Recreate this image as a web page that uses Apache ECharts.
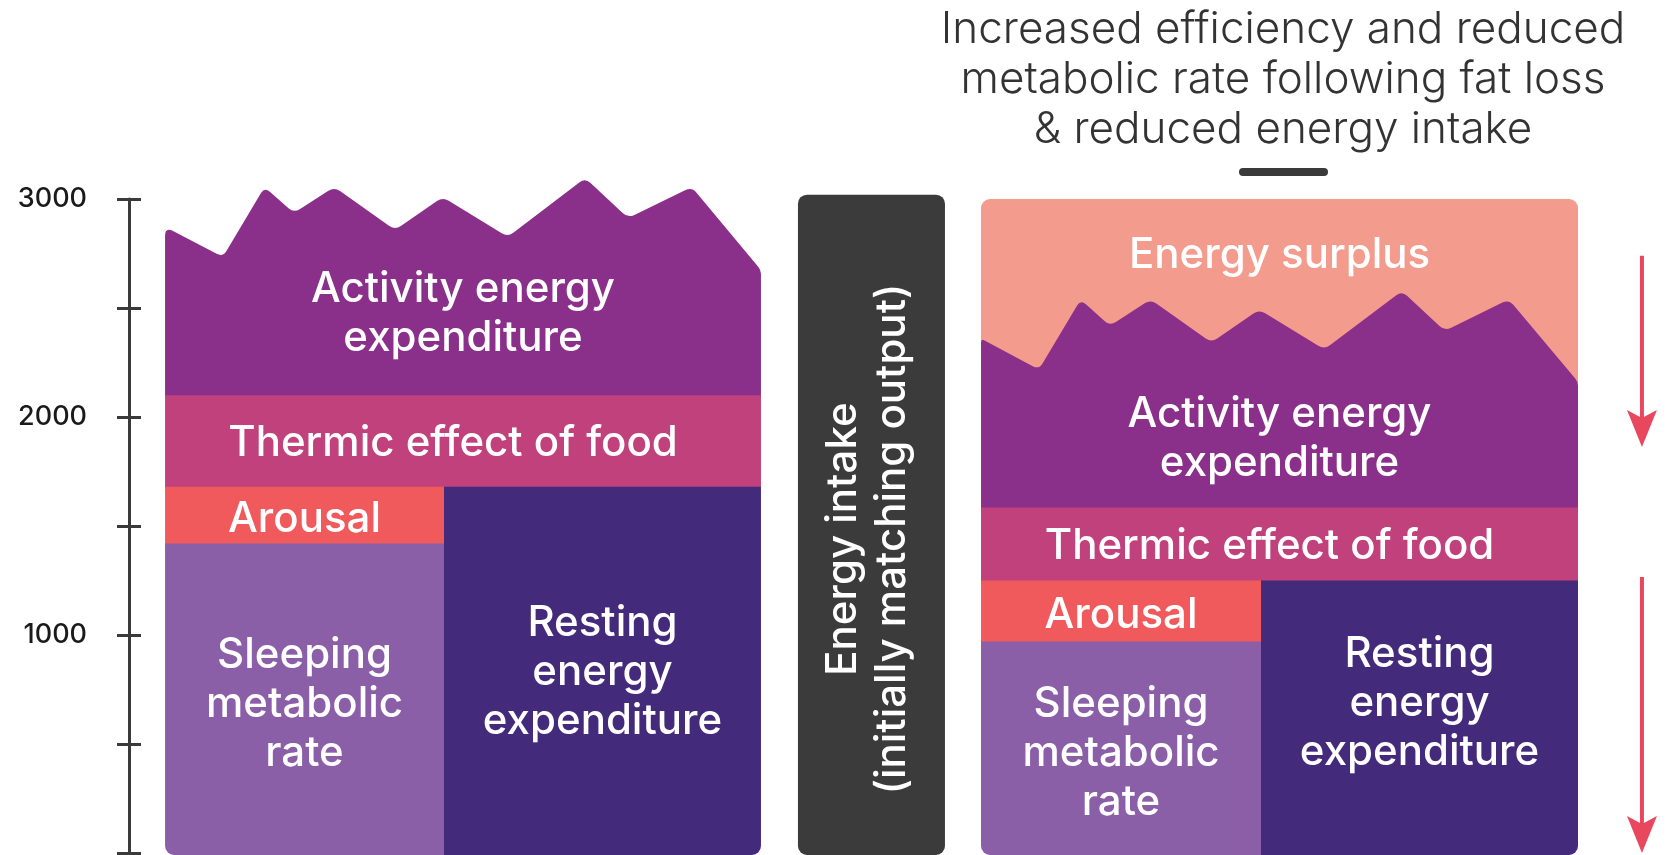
<!DOCTYPE html>
<html>
<head>
<meta charset="utf-8">
<script src="https://cdn.jsdelivr.net/npm/echarts@6/dist/echarts.min.js"></script>
<style>
  html, body { margin: 0; padding: 0; background: #ffffff; }
  #chart { width: 1670px; height: 855px; }
</style>
</head>
<body>
<div id="chart"></div>
<script>
// ---- Daily energy budget (kcal/day): before and after fat loss ----
const yTicks = [0, 500, 1000, 1500, 2000, 2500, 3000];
const yLabels = ['', '', '1000', '', '2000', '', '3000'];
const panels = ['Before fat loss', 'After fat loss'];
const sleepingTop = [1420, 970];      // sleeping metabolic rate
const arousalTop = [1680, 1250];      // sleeping + arousal (= resting energy expenditure)
const thermicTop = [2100, 1585];      // + thermic effect of food
const surplusTop = [null, 3000];      // energy intake level over the reduced output
const energyIntake = 3020;
// Ragged upper edge of activity energy expenditure
const activityEdgeBefore = [2872, 2734, 3055, 2936, 3055, 2858, 3009, 2826, 3096, 2913, 3055, 2674];
const activityEdgeAfter = [2360, 2218, 2539, 2418, 2539, 2342, 2493, 2310, 2578, 2395, 2539, 2161];
const arrowDrops = [[2740, 1862], [1266, 0]];

const titleText = 'Increased efficiency and reduced\nmetabolic rate following fat loss\n& reduced energy intake';
const bandNames = {
  activity: 'Activity energy\nexpenditure',
  thermic: 'Thermic effect of food',
  arousal: 'Arousal',
  sleeping: 'Sleeping\nmetabolic\nrate',
  resting: 'Resting\nenergy\nexpenditure',
  surplus: 'Energy surplus',
  intake: 'Energy intake\n(initially matching output)'
};

// ---- layout: horizontal positions in percent of plot width ----
const layout = {
  panels: [
    { x0: 2.34, split: 20.44, x1: 41.01 },
    { x0: 55.29, split: 73.46, x1: 94.03 }
  ],
  intakeBar: [43.41, 52.95],
  arrowX: 98.18,
  edgeX: [0, 0.097, 0.167, 0.216, 0.284, 0.386, 0.466, 0.575, 0.705, 0.777, 0.884, 1],
  labelValue: { activity: [2480, 1910], resting: [840, 695], surplus: 2752, intake: 1440 },
  sleepingShift: -20
};

const colors = {
  activity: '#8a308a',
  thermic: '#c1417c',
  arousal: '#f05a5d',
  sleeping: '#8a5fa8',
  resting: '#432a7b',
  surplus: '#f39b8c',
  intake: '#3b3b3b',
  axis: '#3a3a3a',
  arrow: '#e9475e'
};

const FONT = 'Inter, "Noto Sans", sans-serif';
const LABEL = { fill: '#ffffff', fontFamily: FONT, fontSize: 42, fontWeight: 500, lineHeight: 49, align: 'center', verticalAlign: 'middle' };
const TEXT_DY = 2;

// Closed polygon path with softly rounded vertices; each point may carry its own radius
function roundedPath(pts) {
  const n = pts.length;
  let d = '';
  for (let k = 0; k < n; k++) {
    const p = pts[k], a = pts[(k - 1 + n) % n], b = pts[(k + 1) % n];
    const r = p[2] || 0;
    const da = Math.hypot(a[0] - p[0], a[1] - p[1]) || 1;
    const db = Math.hypot(b[0] - p[0], b[1] - p[1]) || 1;
    const la = Math.min(r, da / 2), lb = Math.min(r, db / 2);
    const s = [p[0] + (a[0] - p[0]) / da * la, p[1] + (a[1] - p[1]) / da * la];
    const e = [p[0] + (b[0] - p[0]) / db * lb, p[1] + (b[1] - p[1]) / db * lb];
    d += (k === 0 ? 'M' : 'L') + s[0].toFixed(2) + ' ' + s[1].toFixed(2) +
      ' Q' + p[0].toFixed(2) + ' ' + p[1].toFixed(2) + ' ' + e[0].toFixed(2) + ' ' + e[1].toFixed(2) + ' ';
  }
  return d + 'Z';
}

function rectBetween(api, xa, xb, vTop, vBottom, r, color, extra) {
  const p1 = api.coord([xa, vTop]);
  const p2 = api.coord([xb, vBottom]);
  return {
    type: 'rect',
    shape: { x: p1[0], y: p1[1], width: p2[0] - p1[0], height: p2[1] - p1[1] + (extra || 0), r: r },
    style: { fill: color }
  };
}

function textAt(api, x, v, text, dx) {
  const p = api.coord([x, v]);
  return { type: 'text', x: p[0] + (dx || 0), y: p[1] + TEXT_DY, style: Object.assign({ text: text }, LABEL) };
}

function renderPanel(params, api) {
  const i = params.dataIndex;
  const P = layout.panels[i];
  const edge = i === 0 ? activityEdgeBefore : activityEdgeAfter;
  const R = 9;
  const kids = [];
  const bottom = api.coord([0, 0])[1] + 2;
  const mid = (P.x0 + P.x1) / 2;
  const leftMid = (P.x0 + P.split) / 2;
  const rightMid = (P.split + P.x1) / 2;

  if (surplusTop[i] != null) {
    kids.push(rectBetween(api, P.x0, P.x1, surplusTop[i], thermicTop[i], [R, R, 0, 0], colors.surplus, 2));
  }
  // activity band with ragged top
  const pts = [];
  const base = api.coord([P.x1, thermicTop[i]]);
  pts.push([base[0], base[1] + 2, 0]);
  const baseL = api.coord([P.x0, thermicTop[i]]);
  pts.push([baseL[0], baseL[1] + 2, 0]);
  edge.forEach(function (v, k) {
    const fx = P.x0 + (P.x1 - P.x0) * layout.edgeX[k];
    const c = api.coord([fx, v]);
    const r = (k === 0 && surplusTop[i] == null) ? R : (k === 0 || k === edge.length - 1 ? 4 : 7);
    pts.push([c[0], c[1], r]);
  });
  kids.push({ type: 'path', shape: { pathData: roundedPath(pts) }, style: { fill: colors.activity } });

  kids.push(rectBetween(api, P.x0, P.x1, thermicTop[i], arousalTop[i], 0, colors.thermic, 2));
  kids.push(rectBetween(api, P.x0, P.split, arousalTop[i], sleepingTop[i], 0, colors.arousal, 2));
  {
    const a = api.coord([P.x0, sleepingTop[i]]);
    const b = api.coord([P.split, 0]);
    kids.push({ type: 'rect', shape: { x: a[0], y: a[1], width: b[0] - a[0] + 1, height: bottom - a[1], r: [0, 0, 0, R] }, style: { fill: colors.sleeping } });
    const c = api.coord([P.split, arousalTop[i]]);
    const d = api.coord([P.x1, 0]);
    kids.push({ type: 'rect', shape: { x: c[0], y: c[1], width: d[0] - c[0], height: bottom - c[1], r: [0, 0, R, 0] }, style: { fill: colors.resting } });
  }

  // band names
  if (surplusTop[i] != null) kids.push(textAt(api, mid, layout.labelValue.surplus, bandNames.surplus));
  kids.push(textAt(api, mid, layout.labelValue.activity[i], bandNames.activity));
  kids.push(textAt(api, mid, (thermicTop[i] + arousalTop[i]) / 2, bandNames.thermic, -10));
  kids.push(textAt(api, leftMid, (arousalTop[i] + sleepingTop[i]) / 2 - 10, bandNames.arousal));
  kids.push(textAt(api, leftMid, sleepingTop[i] / 2 + layout.sleepingShift, bandNames.sleeping));
  kids.push(textAt(api, rightMid, layout.labelValue.resting[i], bandNames.resting));
  return { type: 'group', children: kids };
}

function renderIntake(params, api) {
  const v = api.value(0);
  const a = api.coord([layout.intakeBar[0], v]);
  const b = api.coord([layout.intakeBar[1], 0]);
  const mid = (layout.intakeBar[0] + layout.intakeBar[1]) / 2;
  const t = api.coord([mid, layout.labelValue.intake]);
  return {
    type: 'group',
    children: [
      { type: 'rect', shape: { x: a[0], y: a[1], width: b[0] - a[0], height: b[1] + 2 - a[1], r: 9 }, style: { fill: colors.intake } },
      { type: 'text', x: t[0] - 4, y: t[1], rotation: Math.PI / 2, style: Object.assign({ text: bandNames.intake }, LABEL) }
    ]
  };
}

function renderArrow(params, api) {
  const top = api.coord([layout.arrowX, api.value(0)]);
  const tip = api.coord([layout.arrowX, api.value(1)]);
  const hw = 15, hh = 37, notch = 8;
  return {
    type: 'group',
    children: [
      { type: 'line', shape: { x1: top[0], y1: top[1], x2: tip[0], y2: tip[1] - hh + notch + 2 }, style: { stroke: colors.arrow, lineWidth: 4 } },
      { type: 'polygon', shape: { points: [[tip[0], tip[1]], [tip[0] - hw, tip[1] - hh], [tip[0], tip[1] - hh + notch], [tip[0] + hw, tip[1] - hh]] }, style: { fill: colors.arrow } }
    ]
  };
}

const chart = echarts.init(document.getElementById('chart'));
chart.setOption({
  animation: false,
  backgroundColor: '#ffffff',
  title: {
    text: titleText,
    left: 1283,
    top: 5,
    padding: 0,
    textAlign: 'center',
    textStyle: { fontFamily: FONT, fontSize: 44, fontWeight: 300, lineHeight: 50, color: '#333333' }
  },
  graphic: [
    { type: 'rect', left: 1239, top: 168, shape: { width: 89, height: 8, r: 4 }, style: { fill: colors.axis } }
  ],
  grid: { left: 129, right: 0, top: 199, bottom: 2, containLabel: false },
  xAxis: { type: 'value', min: 0, max: 100, show: false },
  yAxis: [
    {
      type: 'value', min: 0, max: 3000, interval: 500, position: 'left',
      axisLine: { show: true, lineStyle: { color: colors.axis, width: 3 } },
      axisTick: { show: true, inside: false, length: 12, lineStyle: { color: colors.axis, width: 3 } },
      splitLine: { show: false },
      axisLabel: {
        margin: 42, color: '#1a1a1a', fontFamily: FONT, fontSize: 27, fontWeight: 500,
        formatter: function (v) { const k = yTicks.indexOf(v); return k >= 0 ? yLabels[k] : ''; }
      }
    },
    {
      type: 'value', min: 0, max: 3000, interval: 500, position: 'left',
      axisLine: { show: false },
      axisTick: { show: true, inside: true, length: 12, lineStyle: { color: colors.axis, width: 3 } },
      splitLine: { show: false },
      axisLabel: { show: false }
    }
  ],
  series: [
    { type: 'custom', name: 'panels', renderItem: renderPanel, data: panels.map(function (p, i) { return [i, thermicTop[i]]; }), clip: false, silent: true },
    { type: 'custom', name: 'intake', renderItem: renderIntake, data: [[energyIntake]], clip: false, silent: true },
    { type: 'custom', name: 'arrows', renderItem: renderArrow, data: arrowDrops, clip: false, silent: true }
  ]
});
</script>
</body>
</html>
